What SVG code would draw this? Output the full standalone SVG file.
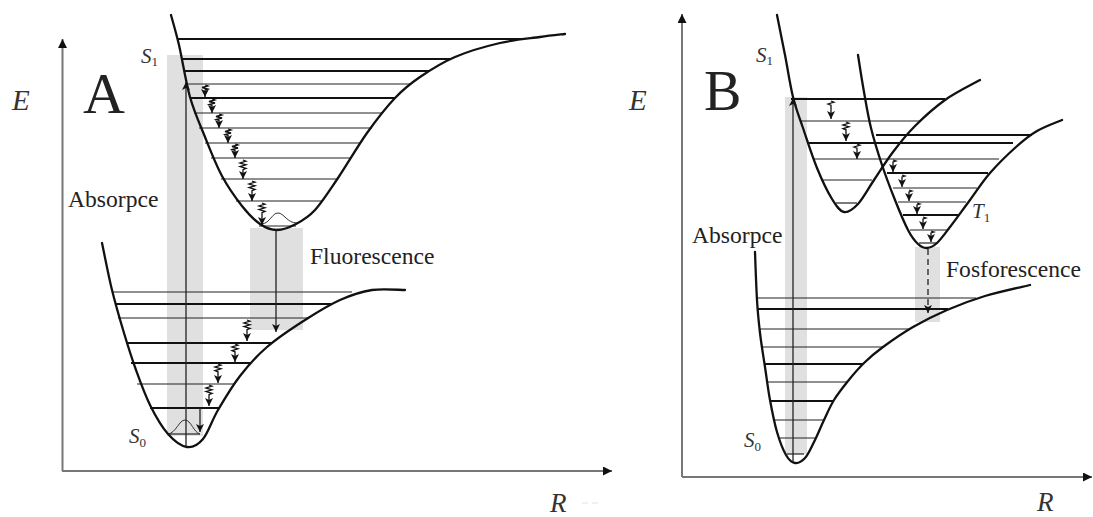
<svg xmlns="http://www.w3.org/2000/svg" width="1093" height="517" viewBox="0 0 1093 517">
<defs>
<style>
.curve{fill:none;stroke:#111;stroke-width:2.3;stroke-linecap:round;stroke-linejoin:round}
.lv{stroke:#222;stroke-width:1.2}
.lt{stroke:#111;stroke-width:2}
.band{fill:#e0e0e0}
.axis{fill:none;stroke:#777;stroke-width:2}
.arr{fill:none;stroke:#222;stroke-width:1.3}
.zz{fill:none;stroke:#111;stroke-width:1.3;stroke-linejoin:miter}
.bump{fill:none;stroke:#333;stroke-width:1}
.lbl{font-family:"Liberation Serif",serif;fill:#222}
.it{font-family:"Liberation Serif",serif;font-style:italic;fill:#333}
</style>
<marker id="ah" viewBox="0 0 10 10" refX="10" refY="5" markerWidth="8" markerHeight="8" markerUnits="userSpaceOnUse" orient="auto"><path d="M0,0 L10,5 L0,10 L2.5,5 z" fill="#111"/></marker>
<marker id="axh" viewBox="0 0 10 10" refX="10" refY="5" markerWidth="10" markerHeight="9" markerUnits="userSpaceOnUse" orient="auto"><path d="M0,0 L10,5 L0,10 z" fill="#111"/></marker>
</defs>
<rect width="1093" height="517" fill="#fff"/>

<g id="bands">
<rect class="band" x="167" y="55" width="36" height="381"/>
<rect class="band" x="250" y="228" width="53" height="102"/>
<rect class="band" x="785" y="97" width="22" height="357"/>
<rect class="band" x="915" y="247" width="25" height="75"/>
</g>

<g id="axes-A">
<path class="axis" d="M62.5,471 V39" marker-end="url(#axh)"/>
<path class="axis" d="M62,471 H612" marker-end="url(#axh)"/>
<text class="it" x="12" y="110" font-size="29">E</text>
<text class="it" x="550" y="512" font-size="27">R</text>
<path d="M582,503 H598" stroke="#e2e2e2" stroke-width="1" stroke-dasharray="6,4"/>
<text class="lbl" x="83" y="113" font-size="58" fill="#111">A</text>
</g>

<g id="axes-B">
<path class="axis" d="M682,477 V14" marker-end="url(#axh)"/>
<path class="axis" d="M682,477 H1092" marker-end="url(#axh)"/>
<text class="it" x="629" y="110" font-size="29">E</text>
<text class="it" x="1037" y="511" font-size="27">R</text>
<text class="lbl" x="704" y="110" font-size="56" fill="#111">B</text>
</g>

<g id="S1-A">
<line class="lt" x1="178" y1="39" x2="522" y2="39"/>
<line class="lt" x1="181" y1="59" x2="450" y2="59"/>
<line class="lt" x1="184" y1="71" x2="430" y2="71"/>
<line class="lv" x1="187" y1="84" x2="410" y2="84" stroke-width="1.6"/>
<line class="lt" x1="190" y1="98" x2="396" y2="98"/>
<line class="lv" x1="194" y1="113" x2="383" y2="113"/>
<line class="lv" x1="199" y1="128" x2="372" y2="128" stroke-width="1.6"/>
<line class="lv" x1="205" y1="143" x2="361" y2="143"/>
<line class="lv" x1="211" y1="158" x2="351" y2="158" stroke-width="1.6"/>
<line class="lv" x1="221" y1="179" x2="337" y2="179"/>
<line class="lv" x1="236" y1="201" x2="322" y2="201"/>
<line class="lv" x1="259" y1="226" x2="296" y2="226" stroke-width="1.4"/>
<path class="bump" d="M262,224 C270,223 272,213 278,213 C284,213 287,223 297,223"/>
<path class="curve" d="M171,15 C172.3,20 175.8,31.3 179,45 C182.2,58.7 185.7,81.7 190,97 C194.3,112.3 199.7,123.8 205,137 C210.3,150.2 215.8,164.5 222,176 C228.2,187.5 235.7,198 242,206 C248.3,214 254.2,220 260,224 C265.8,228 271,230 277,230 C283,230 289.7,227.3 296,224 C302.3,220.7 308,217.7 315,210 C322,202.3 329.3,190.8 338,178 C346.7,165.2 357.5,146.3 367,133 C376.5,119.7 386.2,107.3 395,98 C403.8,88.7 410,83.8 420,77 C430,70.2 441.7,62.7 455,57 C468.3,51.3 485.8,46.3 500,43 C514.2,39.7 529.2,38.5 540,37 C550.8,35.5 560.8,34.5 565,34"/>
<text class="it" x="141" y="63" font-size="21">S<tspan font-size="13" font-style="normal" dy="3">1</tspan></text>
</g>

<g id="S0-A">
<line class="lv" x1="112" y1="292" x2="352" y2="292"/>
<line class="lt" x1="115" y1="304" x2="331" y2="304"/>
<line class="lv" x1="118" y1="318" x2="308" y2="318"/>
<line class="lt" x1="126" y1="343" x2="271" y2="343"/>
<line class="lt" x1="131" y1="363" x2="250" y2="363"/>
<line class="lv" x1="137" y1="384" x2="234" y2="384"/>
<line class="lt" x1="150" y1="408" x2="219" y2="408"/>
<line class="lv" x1="168" y1="434" x2="200" y2="434"/>
<path class="bump" d="M168,434 C176,433 179,420 185,420 C191,420 194,433 200,434"/>
<path class="curve" d="M102,243 C103.7,250.8 108.3,275 112,290 C115.7,305 120,319.7 124,333 C128,346.3 131.7,358 136,370 C140.3,382 144.7,394.3 150,405 C155.3,415.7 161.8,427 168,434 C174.2,441 181.2,446.2 187,447 C192.8,447.8 197.8,445.2 203,439 C208.2,432.8 211.8,420.5 218,410 C224.2,399.5 231.8,386.5 240,376 C248.2,365.5 256.2,356.3 267,347 C277.8,337.7 292.8,327.8 305,320 C317.2,312.2 328.8,305 340,300 C351.2,295 361.2,291.7 372,290 C382.8,288.3 399.5,290 405,290"/>
<text class="it" x="129" y="443" font-size="21">S<tspan font-size="13" font-style="normal" dy="4">0</tspan></text>
</g>

<g id="S1-B">
<line class="lt" x1="791" y1="99" x2="945" y2="99"/>
<line class="lv" x1="801" y1="121" x2="921" y2="121"/>
<line class="lt" x1="807" y1="143" x2="1013" y2="143"/>
<line class="lv" x1="813" y1="159" x2="999" y2="159"/>
<line class="lv" x1="821" y1="180" x2="872" y2="180"/>
<line class="lv" x1="836" y1="203" x2="857" y2="203"/>
<path class="curve" d="M777,15 C778.3,21.7 782.3,41.3 785,55 C787.7,68.7 790,84.8 793,97 C796,109.2 799,116.2 803,128 C807,139.8 812.2,156.2 817,168 C821.8,179.8 827.5,191.7 832,199 C836.5,206.3 839.7,211.2 844,212 C848.3,212.8 853,209.3 858,204 C863,198.7 868.2,188.7 874,180 C879.8,171.3 886.2,161 893,152 C899.8,143 906.3,134.7 915,126 C923.7,117.3 934.2,107.7 945,100 C955.8,92.3 974.2,83.3 980,80"/>
<text class="it" x="756" y="62" font-size="21">S<tspan font-size="13" font-style="normal" dy="3">1</tspan></text>
</g>

<g id="T1-B">
<line class="lt" x1="876" y1="135" x2="1032" y2="135"/>
<line class="lt" x1="887" y1="173" x2="988" y2="173"/>
<line class="lv" x1="893" y1="188" x2="977" y2="188"/>
<line class="lv" x1="898" y1="202" x2="966" y2="202"/>
<line class="lt" x1="903" y1="215" x2="958" y2="215"/>
<line class="lv" x1="910" y1="230" x2="948" y2="230"/>
<line class="lv" x1="919" y1="243" x2="937" y2="243"/>
<path class="curve" d="M858,55 C859,61.2 861.8,79.8 864,92 C866.2,104.2 868,115.8 871,128 C874,140.2 878,153 882,165 C886,177 890.7,189.2 895,200 C899.3,210.8 904.2,222.7 908,230 C911.8,237.3 914.8,241 918,244 C921.2,247 923.8,248.2 927,248 C930.2,247.8 933.2,246.5 937,243 C940.8,239.5 944.5,234.2 950,227 C955.5,219.8 963.3,209 970,200 C976.7,191 982.3,181.8 990,173 C997.7,164.2 1008.2,154 1016,147 C1023.8,140 1029.3,135.5 1037,131 C1044.7,126.5 1057.8,121.8 1062,120"/>
<text class="it" x="972" y="218" font-size="21">T<tspan font-size="13" font-style="normal" dy="4">1</tspan></text>
</g>

<g id="S0-B">
<line class="lv" x1="757" y1="298" x2="976" y2="298"/>
<line class="lt" x1="758" y1="309" x2="948" y2="309"/>
<line class="lv" x1="760" y1="329" x2="910" y2="329"/>
<line class="lv" x1="762" y1="347" x2="883" y2="347"/>
<line class="lt" x1="765" y1="364" x2="863" y2="364"/>
<line class="lv" x1="767" y1="382" x2="848" y2="382"/>
<line class="lt" x1="771" y1="401" x2="834" y2="401"/>
<line class="lv" x1="775" y1="420" x2="824" y2="420"/>
<line class="lv" x1="780" y1="438" x2="815" y2="438"/>
<line class="lv" x1="787" y1="454" x2="804" y2="454"/>
<path class="curve" d="M755,252 C755.3,260 756.2,286.5 757,300 C757.8,313.5 758.7,321.8 760,333 C761.3,344.2 763.3,355.8 765,367 C766.7,378.2 768,389.2 770,400 C772,410.8 774.3,422.8 777,432 C779.7,441.2 783,449.8 786,455 C789,460.2 791.8,462.5 795,463 C798.2,463.5 801.8,461.5 805,458 C808.2,454.5 810.8,448.3 814,442 C817.2,435.7 820.7,427 824,420 C827.3,413 830,406.5 834,400 C838,393.5 843,387.2 848,381 C853,374.8 858.2,368.7 864,363 C869.8,357.3 874.8,353 883,347 C891.2,341 902.3,333.2 913,327 C923.7,320.8 935,315.2 947,310 C959,304.8 971.2,300.2 985,296 C998.8,291.8 1022.5,286.8 1030,285"/>
<text class="it" x="744" y="447" font-size="21">S<tspan font-size="13" font-style="normal" dy="4">0</tspan></text>
</g>

<g id="labels">
<text class="lbl" x="68" y="207" font-size="23.6">Absorpce</text>
<text class="lbl" x="310" y="264" font-size="23.6">Fluorescence</text>
<text class="lbl" x="692" y="243" font-size="23.6">Absorpce</text>
<text class="lbl" x="946" y="277" font-size="23.6">Fosforescence</text>
</g>

<g id="connectors">
<path class="arr" d="M186,447 V82" marker-end="url(#ah)"/>
<path class="arr" d="M276,229 V332" marker-end="url(#ah)"/>
<path class="arr" d="M200,408 V432" marker-end="url(#ah)"/>
<path class="arr" d="M793,462 V98" marker-end="url(#ah)"/>
<path class="arr" d="M928,249 V313" stroke-dasharray="6,4" marker-end="url(#ah)"/>
<path class="zz" d="M205,85 l3,1 l-6,1.5 l6,1.5 l-3,1 V97" marker-end="url(#ah)"/>
<path class="zz" d="M212,99 l3,1 l-6,1.5 l6,1.5 l-6,1.5 l3,1 V113" marker-end="url(#ah)"/>
<path class="zz" d="M219,114 l3,1 l-6,1.5 l6,1.5 l-6,1.5 l3,1 V128" marker-end="url(#ah)"/>
<path class="zz" d="M228,129 l3,1 l-6,1.5 l6,1.5 l-6,1.5 l3,1 V143" marker-end="url(#ah)"/>
<path class="zz" d="M235,144 l3,1 l-6,1.5 l6,1.5 l-6,1.5 l3,1 V158" marker-end="url(#ah)"/>
<path class="zz" d="M243,160 l3,1.2 l-6,1.8 l6,1.8 l-6,1.8 l6,1.8 l-3,1.2 V179" marker-end="url(#ah)"/>
<path class="zz" d="M252,181 l3,1.2 l-6,1.8 l6,1.8 l-6,1.8 l6,1.8 l-3,1.2 V201" marker-end="url(#ah)"/>
<path class="zz" d="M262,203 l3,1.2 l-6,1.8 l6,1.8 l-6,1.8 l6,1.8 l-3,1.2 V225" marker-end="url(#ah)"/>
<path class="zz" d="M247,320 l3,1.2 l-6,1.8 l6,1.8 l-6,1.8 l6,1.8 l-3,1.2 V341" marker-end="url(#ah)"/>
<path class="zz" d="M235,344 l3,1.2 l-6,1.8 l6,1.8 l-6,1.8 l3,1.2 V362" marker-end="url(#ah)"/>
<path class="zz" d="M218,364 l3,1.2 l-6,1.8 l6,1.8 l-6,1.8 l3,1.2 V383" marker-end="url(#ah)"/>
<path class="zz" d="M209,385 l3,1.2 l-6,1.8 l6,1.8 l-6,1.8 l6,1.8 l-3,1.2 V406" marker-end="url(#ah)"/>
<path class="zz" d="M831,101 l3,1.2 l-6,1.8 l3,1.2 V119" marker-end="url(#ah)"/>
<path class="zz" d="M846,122 l3,1.2 l-6,1.8 l6,1.8 l-6,1.8 l3,1.2 V141" marker-end="url(#ah)"/>
<path class="zz" d="M857,144 l3,1.2 l-6,1.8 l3,1.2 V159" marker-end="url(#ah)"/>
<path class="zz" d="M893,160 l3,1 l-3,1 V172" marker-end="url(#ah)"/>
<path class="zz" d="M902,175 l3,1 l-3,1 V187" marker-end="url(#ah)"/>
<path class="zz" d="M909,190 l3,1 l-3,1 V201" marker-end="url(#ah)"/>
<path class="zz" d="M917,203 l3,1 l-3,1 V214" marker-end="url(#ah)"/>
<path class="zz" d="M923,217 l3,1 l-3,1 V229" marker-end="url(#ah)"/>
<path class="zz" d="M931,231 l3,1 l-3,1 V242" marker-end="url(#ah)"/>
</g>
</svg>
